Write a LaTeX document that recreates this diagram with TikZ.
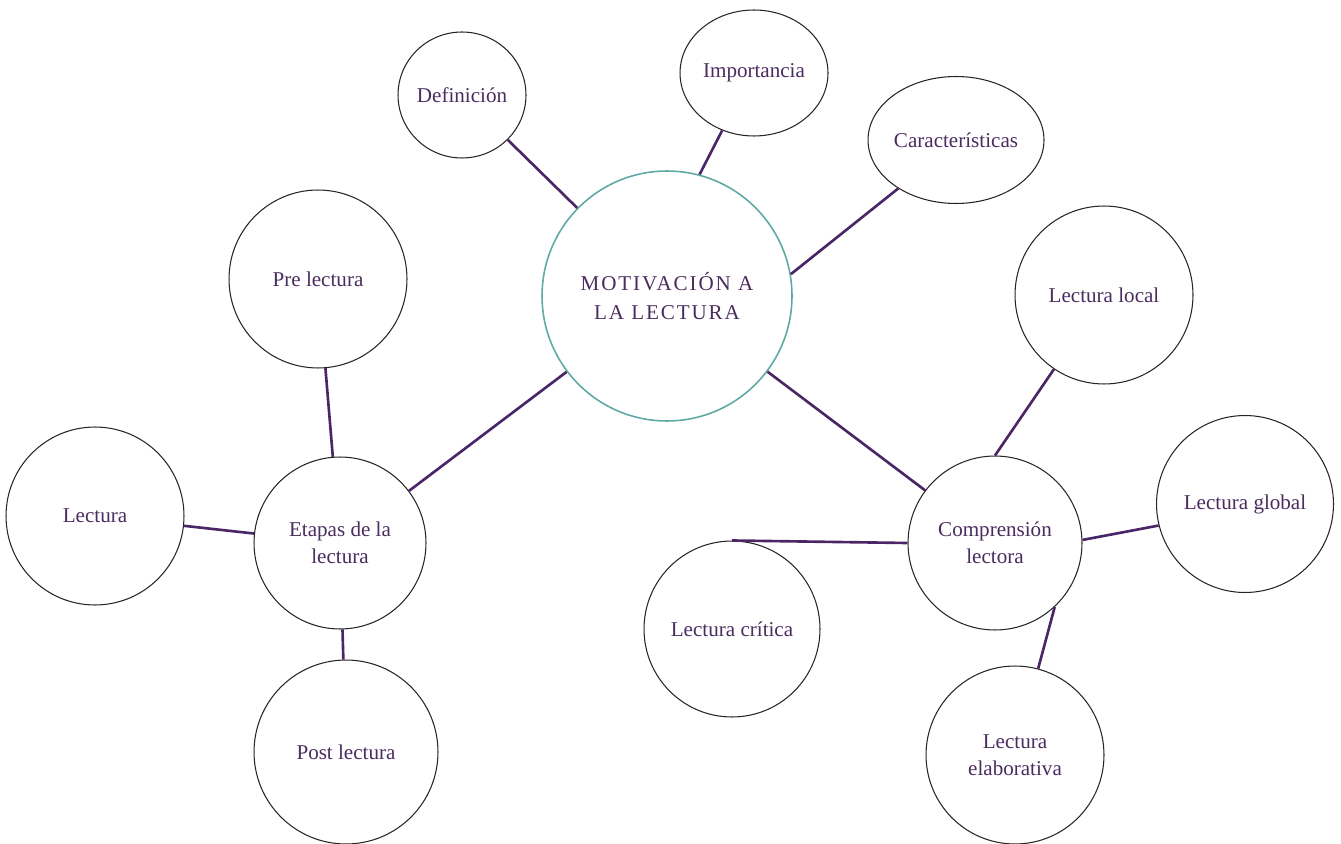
\documentclass[tikz,border=0pt]{standalone}
\usepackage{fontspec}
\setmainfont{Liberation Serif}
\usetikzlibrary{shapes.geometric}

\definecolor{txtpurple}{HTML}{4A2C5E}
\definecolor{linkpurple}{HTML}{4B2667}
\definecolor{mainteal}{HTML}{5FA9A3}

\tikzset{
	bubble/.style={circle, draw=black!85, line width=0.6pt, minimum size=#1, inner sep=0pt,
		text=txtpurple, align=center, font=\fontsize{12}{15.5}\selectfont},
	oval/.style 2 args={ellipse, draw=black!85, line width=0.6pt, minimum width=#1, minimum height=#2,
		inner sep=0pt, text=txtpurple, align=center, font=\fontsize{12}{15.5}\selectfont},
	link/.style={draw=linkpurple, line width=1.5pt}
}

\begin{document}
\begin{tikzpicture}[x=0.02cm, y=-0.02cm]
	\useasboundingbox (0,0) rectangle (1341,844);
	
	\node[circle, draw=mainteal, line width=0.9pt, minimum size=5cm, inner sep=0pt, text=txtpurple,
		align=center, font=\fontsize{12}{16.5}\selectfont\addfontfeature{LetterSpace=9}]
		(mot) at (667,296) {MOTIVACIÓN A\\LA LECTURA};
	
	\node[oval={2.56cm}{2.52cm}] (def)  at (462,95)  {Definición};
	\node[oval={2.96cm}{2.52cm}] (imp)  at (754,73)  {Importancia};
	\node[oval={3.52cm}{2.54cm}] (cara) at (956,140) {Características};
	
	\node[bubble=3.44cm] (etapas) at (340,543) {Etapas de la\\lectura};
	\node[bubble=3.56cm] (pre)    at (318,279) {Pre lectura};
	\node[bubble=3.56cm] (lect)   at (95,516)  {Lectura};
	\node[bubble=3.68cm] (post)   at (346,752) {Post lectura};
	
	\node[bubble=3.48cm] (comp)   at (995,543)  {Comprensión\\lectora};
	\node[bubble=3.56cm] (local)  at (1104,295) {Lectura local};
	\node[bubble=3.54cm] (global) at (1245,504) {Lectura global};
	\node[bubble=3.52cm] (critica) at (732,629) {Lectura crítica};
	\node[bubble=3.56cm] (elab)   at (1015,755) {Lectura\\elaborativa};
	
	\draw[link] (def) -- (mot);
	\draw[link] (imp.241) -- (mot.75);
	\draw[link] (cara.220) -- (mot.10);
	\draw[link] (mot) -- (etapas);
	\draw[link] (mot) -- (comp);
	
	\draw[link] (pre) -- (etapas);
	\draw[link] (lect) -- (etapas);
	\draw[link] (etapas) -- (post);
	
	\draw[link] (local.236) -- (comp.north);
	\draw[link] (comp.2) -- (global.194);
	\draw[link] (comp.-47) -- (elab.75);
	\draw[link] (critica.north) -- (comp.west);
\end{tikzpicture}
\end{document}
